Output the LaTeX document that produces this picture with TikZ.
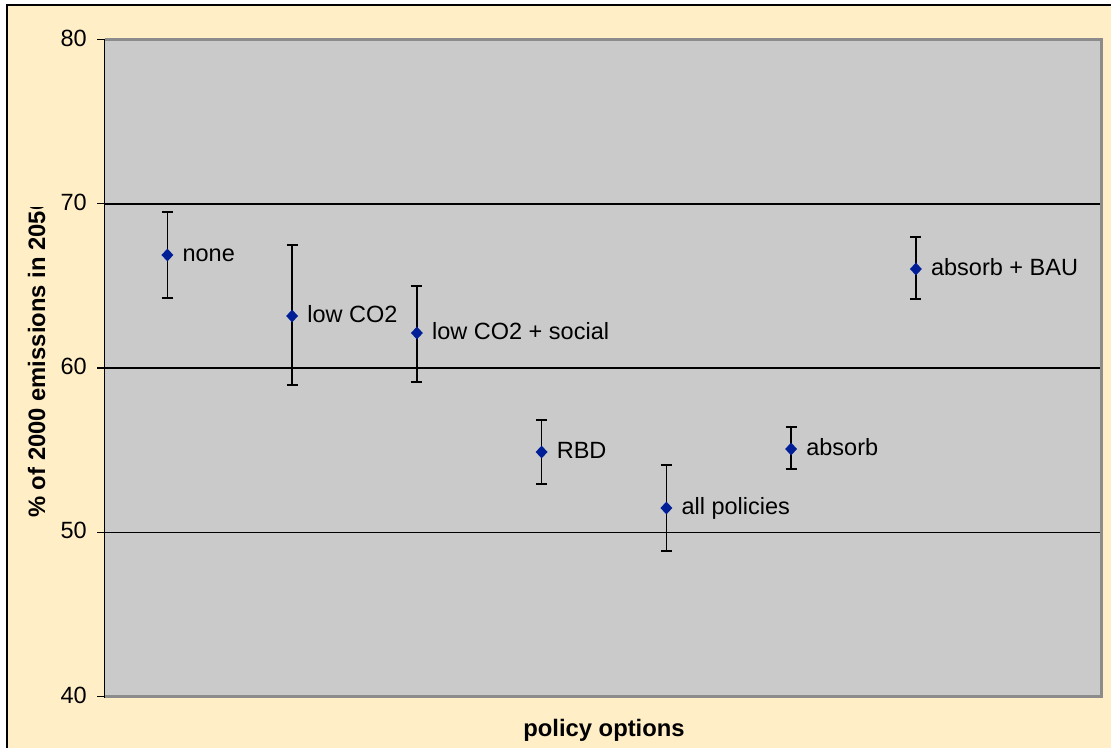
\documentclass[tikz,border=0pt]{standalone}
\usepackage{fontspec}
\setmainfont{Liberation Sans}
\usetikzlibrary{shapes.geometric}
\definecolor{cream}{RGB}{255,238,198}
\definecolor{plotgray}{RGB}{202,202,202}
\definecolor{framegray}{RGB}{140,140,140}
\definecolor{markblue}{RGB}{0,30,150}
\begin{document}
\begin{tikzpicture}[x=1pt,y=-1pt,
  lbl/.style={font=\fontsize{23.5}{27}\selectfont, inner sep=0pt, anchor=base west},
  ticklbl/.style={font=\fontsize{23.5}{27}\selectfont, inner sep=0pt, anchor=east},
  axtitle/.style={font=\bfseries\fontsize{23.8}{27}\selectfont, inner sep=0pt},
  mk/.style={diamond, fill=markblue, inner sep=0pt, minimum width=12pt, minimum height=13pt},
  errbar/.style={line width=1.5pt, black},
  grid line/.style={line width=1.5pt, black},
  tickmark/.style={line width=1.3pt, black}]
\useasboundingbox (0,0) rectangle (1111,748);
\fill[white] (0,0) rectangle (1111,748);
\fill[cream] (7,5) rectangle (1111,748);
\draw[line width=2pt, black] (7,748) -- (7,5) -- (1111,5);
% plot area
\fill[plotgray] (104.5,39.5) rectangle (1101.5,696.5);
\foreach \y in {203.75,368,532.25}
  \draw[grid line] (104.5,\y) -- (1101.5,\y);
\draw[framegray, line width=2.5pt] (104.5,39.5) -- (1101.5,39.5) -- (1101.5,696.5) -- (104.5,696.5);
\draw[line width=1.5pt, black] (104.5,38.5) -- (104.5,697.5);
% ticks
\foreach \v/\y in {80/39.5,70/203.75,60/368,50/532.25,40/696.5} {
  \draw[tickmark] (97,\y) -- (104.5,\y);
  \node[ticklbl] (tick\v) at (87,\y-1.5) {\v};
}
% data
\foreach \i/\x/\y/\t/\b/\l in {
  1/167.4/255/212/298/none,
  2/292.1/316/245/385/low CO2,
  3/416.9/333/286/382/low CO2 + social,
  4/541.6/452/420/484/RBD,
  5/666.4/508/465/551/all policies,
  6/791.1/449/427/469/absorb,
  7/915.9/269/237/299/absorb + BAU} {
  \coordinate (t\i) at (\x,\t);
  \coordinate (b\i) at (\x,\b);
  \draw[errbar] (t\i) -- (b\i);
  \draw[errbar] ([xshift=-5.5pt]t\i) -- ([xshift=5.5pt]t\i);
  \draw[errbar] ([xshift=-5.5pt]b\i) -- ([xshift=5.5pt]b\i);
  \node[mk] (p\i) at (\x,\y) {};
  \node[lbl] (l\i) at (\x+15,\y+6.5) {\l};
}
% axis titles
\node[axtitle, anchor=base] (xtitle) at (604,736) {policy options};
\begin{scope}
  \clip (0,207) rectangle (100,748);
  \node[axtitle, anchor=base west, rotate=90] (ytitle) at (45,518) {\% of 2000 emissions in 2050};
\end{scope}
\end{tikzpicture}
\end{document}
